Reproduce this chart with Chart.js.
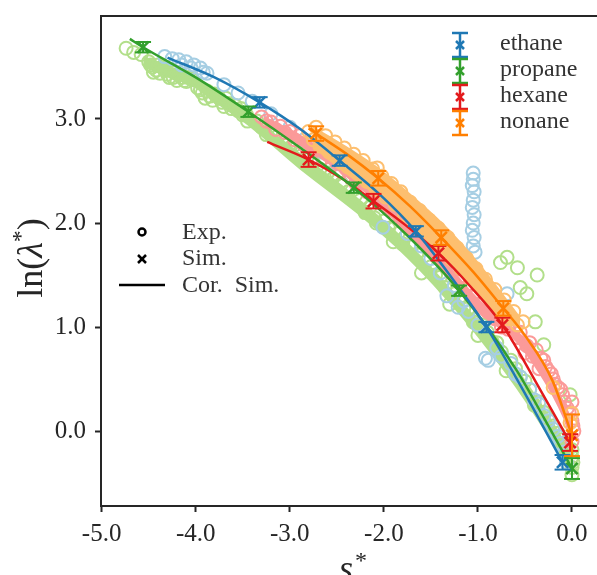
<!DOCTYPE html>
<html>
<head>
<meta charset="utf-8">
<script src="https://cdn.jsdelivr.net/npm/chart.js@4.4.0/dist/chart.umd.min.js"></script>
<style>
  body { margin: 0; background: #fff; }
  #wrap { width: 597px; height: 575px; }
</style>
</head>
<body>
<div id="wrap"><canvas id="chart" width="597" height="575"></canvas></div>
<script>
// series + colours
const seriesNames = ["ethane", "propane", "hexane", "nonane"];
const darkColors = ["#1f78b4", "#33a02c", "#e31a1c", "#ff7f00"];
const lightColors = ["#a6cee3", "#b2df8a", "#fb9a99", "#fdbf6f"];

const xTicks = [-5, -4, -3, -2, -1, 0];
const yTicks = [0, 1, 2, 3];

// experimental points [s*, ln(lambda*)]
const expEthane = [
  [-4.33, 3.60], [-4.25, 3.58], [-4.18, 3.57], [-4.10, 3.55], [-4.02, 3.52], [-3.95, 3.49],
  [-3.88, 3.44], [-4.15, 3.52], [-4.05, 3.49], [-3.92, 3.45], [-3.70, 3.33], [-3.55, 3.25],
  [-3.40, 3.17], [-3.20, 3.05], [-3.00, 2.92], [-2.85, 2.80], [-2.65, 2.68], [-2.50, 2.57],
  [-2.35, 2.45], [-2.20, 2.33], [-2.01, 1.96], [-1.75, 1.90], [-1.60, 1.78], [-1.50, 1.66],
  [-1.40, 1.52], [-1.33, 1.30], [-1.21, 1.19], [-1.10, 1.15], [-1.00, 1.02], [-0.92, 0.70],
  [-0.89, 0.68], [-0.80, 0.80], [-0.69, 1.32], [-0.65, 0.65], [-0.55, 0.52], [-0.45, 0.40],
  [-0.35, 0.26], [-0.25, 0.10], [-0.15, -0.05], [-0.08, -0.20], [-0.06, -0.30],
  [-0.75, 0.72], [-0.60, 0.55], [-0.40, 0.30], [-0.30, 0.15], [-0.20, 0.02], [-0.12, -0.12],
  [-1.25, 1.40], [-1.15, 1.25],
  [-1.05, 2.48], [-1.05, 2.42], [-1.06, 2.36], [-1.04, 2.30], [-1.05, 2.22], [-1.06, 2.15],
  [-1.04, 2.08], [-1.05, 2.00], [-1.06, 1.93], [-1.04, 1.86], [-1.05, 1.78], [-1.03, 1.72]
];
const expPropane = [
  [-4.74, 3.68], [-4.66, 3.64], [-4.58, 3.62], [-4.48, 3.52], [-4.42, 3.47], [-4.36, 3.50],
  [-4.30, 3.43], [-4.22, 3.45], [-4.15, 3.40], [-4.08, 3.40], [-4.45, 3.45], [-4.28, 3.40],
  [-4.12, 3.37], [-4.50, 3.55], [-4.46, 3.50], [-4.40, 3.52], [-4.38, 3.44], [-4.33, 3.47],
  [-4.26, 3.47], [-4.24, 3.40], [-4.18, 3.42], [-4.20, 3.37], [-4.10, 3.36], [-4.04, 3.38],
  [-3.95, 3.28], [-3.85, 3.22], [-3.75, 3.20], [-3.65, 3.15], [-3.55, 3.08], [-3.90, 3.20],
  [-3.70, 3.12], [-3.50, 3.04], [-3.98, 3.30], [-3.93, 3.25], [-3.88, 3.27], [-3.82, 3.18],
  [-3.80, 3.24], [-3.72, 3.16], [-3.68, 3.20], [-3.62, 3.10], [-3.58, 3.13], [-3.52, 3.10],
  [-3.46, 3.04], [-3.45, 2.98], [-3.35, 2.98], [-3.20, 2.88], [-3.05, 2.78], [-2.90, 2.68],
  [-2.75, 2.58], [-2.60, 2.48], [-2.45, 2.38], [-2.30, 2.27], [-2.15, 2.15], [-2.00, 2.02],
  [-1.85, 1.90], [-1.70, 1.78], [-1.55, 1.63], [-1.40, 1.48], [-1.25, 1.32], [-1.10, 1.18],
  [-0.95, 1.02], [-0.80, 0.85], [-0.65, 0.68], [-0.50, 0.48], [-0.35, 0.28], [-0.20, 0.05],
  [-0.08, -0.15], [0.00, -0.25], [0.00, -0.35], [0.00, -0.42], [0.01, -0.30],
  [-3.30, 2.92], [-3.25, 2.85], [-3.12, 2.84], [-3.00, 2.72], [-2.95, 2.75], [-2.82, 2.62],
  [-2.68, 2.52], [-2.55, 2.42], [-2.50, 2.47], [-2.38, 2.30], [-2.25, 2.22], [-2.08, 2.00],
  [-1.95, 1.95], [-1.80, 1.80], [-1.78, 1.86], [-1.65, 1.70], [-1.50, 1.58], [-1.45, 1.50],
  [-1.35, 1.38], [-1.20, 1.28], [-1.15, 1.18], [-1.05, 1.05], [-0.90, 0.95], [-0.85, 0.86],
  [-0.75, 0.76], [-0.60, 0.60], [-0.55, 0.52], [-0.45, 0.40], [-0.30, 0.18], [-0.25, 0.12],
  [-0.15, -0.02], [-0.10, -0.08], [-0.05, -0.20], [0.00, -0.18],
  [-2.20, 2.10], [-1.90, 1.82], [-1.60, 1.52], [-1.30, 1.22], [-1.00, 0.92], [-0.70, 0.58],
  [-0.40, 0.25], [-2.10, 2.05], [-0.76, 1.62], [-0.69, 1.67], [-0.58, 1.57], [-0.37, 1.50],
  [-0.55, 1.38], [-0.48, 1.32], [-0.39, 1.05], [-0.30, 0.83], [-0.02, 0.35]
];
const expHexane = [
  [-3.30, 3.02], [-3.20, 2.97], [-3.10, 2.93], [-3.00, 2.88], [-2.90, 2.84], [-2.80, 2.77],
  [-2.70, 2.72], [-2.60, 2.66], [-2.50, 2.58], [-2.40, 2.52], [-2.25, 2.40], [-2.10, 2.28],
  [-3.25, 2.98], [-3.15, 2.90], [-3.05, 2.87], [-2.95, 2.80], [-2.85, 2.75], [-2.75, 2.70],
  [-2.65, 2.62], [-2.55, 2.56], [-2.45, 2.50], [-2.35, 2.43], [-2.30, 2.38], [-2.18, 2.30],
  [-2.02, 2.20], [-1.88, 2.08], [-1.72, 1.95], [-1.58, 1.82], [-1.42, 1.68], [-1.28, 1.52],
  [-1.12, 1.38], [-0.98, 1.22], [-0.82, 1.08], [-0.68, 0.98],
  [-1.95, 2.15], [-1.80, 2.02], [-1.65, 1.88], [-1.50, 1.75], [-1.35, 1.60], [-1.20, 1.45],
  [-1.05, 1.30], [-0.90, 1.15], [-0.75, 1.00], [-0.62, 0.98], [-0.55, 0.95], [-0.45, 0.85],
  [-0.38, 0.78], [-0.30, 0.68], [-0.25, 0.58], [-0.20, 0.50], [-0.15, 0.42], [-0.10, 0.35],
  [-0.05, 0.22], [0.00, 0.10], [0.02, 0.00], [0.00, -0.10], [-0.50, 0.75], [-0.35, 0.60],
  [-0.58, 0.90], [-0.48, 0.82], [-0.42, 0.72], [-0.33, 0.70], [-0.28, 0.62], [-0.22, 0.55],
  [-0.18, 0.45], [-0.12, 0.40], [-0.08, 0.28], [-0.03, 0.18], [0.01, 0.05], [0.00, 0.28]
];
const expNonane = [
  [-2.80, 2.88], [-2.75, 2.80], [-2.72, 2.92], [-2.68, 2.74], [-2.62, 2.84], [-2.58, 2.68],
  [-2.52, 2.78], [-2.48, 2.62], [-2.42, 2.72], [-2.38, 2.54], [-2.32, 2.66], [-2.28, 2.48],
  [-2.22, 2.60], [-2.18, 2.40], [-2.12, 2.52], [-2.08, 2.32], [-2.02, 2.45], [-1.98, 2.25],
  [-1.92, 2.38], [-1.88, 2.18], [-1.82, 2.30], [-1.78, 2.08], [-1.72, 2.20], [-1.68, 2.00],
  [-1.62, 2.12], [-1.58, 1.92], [-1.52, 2.03], [-1.48, 1.82], [-1.42, 1.95], [-1.38, 1.74],
  [-1.32, 1.86], [-1.28, 1.65], [-1.22, 1.76], [-1.18, 1.56], [-1.12, 1.66], [-1.08, 1.47],
  [-1.02, 1.56], [-0.98, 1.38], [-0.92, 1.46], [-0.88, 1.28], [-0.82, 1.36], [-0.78, 1.18],
  [-0.72, 1.26], [-0.68, 1.08], [-0.62, 1.15], [-0.58, 1.02], [-0.52, 1.05], [-2.45, 2.58],
  [-2.05, 2.36], [-1.65, 2.06], [-1.25, 1.70], [-0.85, 1.32], [-2.07, 2.53], [-1.53, 2.03],
  [-0.20, 0.42], [0.00, 0.17], [-0.02, 0.08]
];

// where the experimental rings overlap into a solid cloud: s*, upper and lower edge
const propaneCloudS = [-4.55, -4.30, -4.05, -3.80, -3.45, -2.90, -2.30, -1.75, -1.20, -0.60, -0.25, 0.00];
const propaneCloudHi = [3.60, 3.52, 3.42, 3.28, 3.06, 2.68, 2.26, 1.82, 1.28, 0.62, 0.16, -0.22];
const propaneCloudLo = [3.50, 3.40, 3.32, 3.16, 2.94, 2.52, 2.10, 1.66, 1.12, 0.42, -0.06, -0.42];
const hexaneCloudS = [-3.28, -2.85, -2.40, -2.00, -1.50, -1.00, -0.60, -0.40, -0.20, 0.00];
const hexaneCloudHi = [3.03, 2.83, 2.54, 2.24, 1.80, 1.28, 0.98, 0.80, 0.50, 0.12];
const hexaneCloudLo = [2.95, 2.72, 2.44, 2.12, 1.66, 1.14, 0.86, 0.62, 0.32, -0.06];
const nonaneCloudS = [-2.75, -2.40, -2.05, -1.70, -1.35, -1.00, -0.75, -0.55];
const nonaneCloudHi = [2.93, 2.74, 2.53, 2.27, 1.98, 1.63, 1.34, 1.10];
const nonaneCloudLo = [2.72, 2.47, 2.24, 1.96, 1.66, 1.32, 1.07, 0.98];

// simulation points with error bars
const ethaneSimS = [-3.32, -2.47, -1.66, -0.91, -0.10];
const ethaneSimL = [3.16, 2.60, 1.92, 1.00, -0.30];
const ethaneSimErr = [0.05, 0.05, 0.05, 0.05, 0.07];
const propaneSimS = [-4.56, -3.44, -2.32, -1.20, 0.00];
const propaneSimL = [3.69, 3.07, 2.34, 1.35, -0.36];
const propaneSimErr = [0.05, 0.05, 0.05, 0.05, 0.10];
const hexaneSimS = [-2.80, -2.11, -1.42, -0.74, -0.02];
const hexaneSimL = [2.61, 2.21, 1.71, 1.02, -0.11];
const hexaneSimErr = [0.07, 0.07, 0.07, 0.07, 0.08];
const nonaneSimS = [-2.72, -2.06, -1.39, -0.73, 0.00];
const nonaneSimL = [2.86, 2.43, 1.86, 1.18, -0.04];
const nonaneSimErr = [0.07, 0.07, 0.07, 0.07, 0.20];

// correlation curves
const ethaneCorS = [-4.30, -3.80, -3.32, -2.90, -2.47, -2.05, -1.66, -1.30, -0.91, -0.48, -0.10];
const ethaneCorL = [3.59, 3.40, 3.16, 2.91, 2.60, 2.28, 1.92, 1.50, 1.00, 0.33, -0.30];
const propaneCorS = [-4.70, -4.56, -4.00, -3.44, -2.90, -2.32, -1.75, -1.20, -0.60, -0.30, 0.00];
const propaneCorL = [3.77, 3.69, 3.40, 3.07, 2.73, 2.34, 1.88, 1.35, 0.60, 0.13, -0.36];
const hexaneCorS = [-3.24, -2.80, -2.45, -2.11, -1.77, -1.42, -1.08, -0.74, -0.37, -0.02];
const hexaneCorL = [2.78, 2.61, 2.43, 2.21, 1.98, 1.71, 1.39, 1.02, 0.45, -0.11];
const nonaneCorS = [-2.80, -2.72, -2.39, -2.06, -1.72, -1.39, -1.05, -0.73, -0.50, -0.21, 0.00];
const nonaneCorL = [2.91, 2.86, 2.66, 2.43, 2.16, 1.86, 1.53, 1.18, 0.92, 0.49, -0.04];

const expSets = [expEthane, expPropane, expHexane, expNonane];
const cloudSets = [
  null,
  { s: propaneCloudS, hi: propaneCloudHi, lo: propaneCloudLo },
  { s: hexaneCloudS, hi: hexaneCloudHi, lo: hexaneCloudLo },
  { s: nonaneCloudS, hi: nonaneCloudHi, lo: nonaneCloudLo }
];
const simSets = [
  { s: ethaneSimS, l: ethaneSimL, err: ethaneSimErr },
  { s: propaneSimS, l: propaneSimL, err: propaneSimErr },
  { s: hexaneSimS, l: hexaneSimL, err: hexaneSimErr },
  { s: nonaneSimS, l: nonaneSimL, err: nonaneSimErr }
];
const corSets = [
  { s: ethaneCorS, l: ethaneCorL },
  { s: propaneCorS, l: propaneCorL },
  { s: hexaneCorS, l: hexaneCorL },
  { s: nonaneCorS, l: nonaneCorL }
];

const serif = "'Liberation Serif', 'DejaVu Serif', serif";
const ink = "#262626";
Chart.defaults.font.family = serif;
Chart.defaults.color = ink;

const toXY = (xs, ys) => xs.map((v, j) => ({ x: v, y: ys[j] }));

const datasets = [];
// sim markers on top
simSets.forEach((d, i) => {
  datasets.push({
    label: seriesNames[i] + " sim",
    data: toXY(d.s, d.l),
    pointStyle: "crossRot",
    pointRadius: 8,
    borderWidth: 2.5,
    borderColor: darkColors[i],
    showLine: false,
    order: 1
  });
});
// correlation lines
corSets.forEach((d, i) => {
  datasets.push({
    label: seriesNames[i] + " cor",
    type: "line",
    data: toXY(d.s, d.l),
    borderColor: darkColors[i],
    borderWidth: 2.5,
    pointRadius: 0,
    fill: false,
    cubicInterpolationMode: "monotone",
    order: 2
  });
});
// experimental rings and clouds; layering back to front: propane, ethane, hexane, nonane
const ringOrder = [8, 9, 6, 4];
const cloudOrder = [0, 10, 7, 5];
expSets.forEach((d, i) => {
  datasets.push({
    label: seriesNames[i] + " exp",
    data: d.map(p => ({ x: p[0], y: p[1] })),
    pointStyle: "circle",
    pointRadius: 6.5,
    borderWidth: 2,
    borderColor: lightColors[i],
    backgroundColor: "rgba(0,0,0,0)",
    showLine: false,
    order: ringOrder[i]
  });
});
cloudSets.forEach((c, i) => {
  if (!c) return;
  datasets.push({
    label: seriesNames[i] + " cloud hi",
    type: "line",
    data: toXY(c.s, c.hi),
    borderColor: "rgba(0,0,0,0)",
    backgroundColor: lightColors[i],
    pointRadius: 0,
    cubicInterpolationMode: "monotone",
    fill: "+1",
    order: cloudOrder[i]
  });
  datasets.push({
    label: seriesNames[i] + " cloud lo",
    type: "line",
    data: toXY(c.s, c.lo),
    borderColor: "rgba(0,0,0,0)",
    pointRadius: 0,
    cubicInterpolationMode: "monotone",
    fill: false,
    order: cloudOrder[i]
  });
});

function seg(ctx, x1, y1, x2, y2) {
  ctx.beginPath();
  ctx.moveTo(x1, y1);
  ctx.lineTo(x2, y2);
  ctx.stroke();
}

// error bars for the sim points
const errorBars = {
  id: "errorBars",
  afterDatasetsDraw(chart) {
    const { ctx, scales: { x, y } } = chart;
    ctx.save();
    ctx.lineWidth = 2;
    simSets.forEach((d, i) => {
      ctx.strokeStyle = darkColors[i];
      d.s.forEach((sv, j) => {
        const px = x.getPixelForValue(sv);
        const top = y.getPixelForValue(d.l[j] + d.err[j]);
        const bot = y.getPixelForValue(d.l[j] - d.err[j]);
        seg(ctx, px, top, px, bot);
        seg(ctx, px - 8, top, px + 8, top);
        seg(ctx, px - 8, bot, px + 8, bot);
      });
    });
    ctx.restore();
  }
};

// frame top, legends, axis titles
const decorations = {
  id: "decorations",
  afterDraw(chart) {
    const { ctx, chartArea: a } = chart;
    ctx.save();
    ctx.strokeStyle = ink;
    ctx.lineWidth = 2;
    seg(ctx, a.left - 1, a.top, a.right, a.top);

    // series legend
    ctx.font = "24px " + serif;
    ctx.textBaseline = "middle";
    ctx.textAlign = "left";
    const rows = [45, 71, 97, 123];
    seriesNames.forEach((name, i) => {
      const cx = 460, cy = rows[i];
      ctx.strokeStyle = darkColors[i];
      ctx.lineWidth = 2.5;
      seg(ctx, cx, cy - 12, cx, cy + 12);
      seg(ctx, cx - 8, cy - 12, cx + 8, cy - 12);
      seg(ctx, cx - 8, cy + 12, cx + 8, cy + 12);
      seg(ctx, cx - 4, cy - 4, cx + 4, cy + 4);
      seg(ctx, cx - 4, cy + 4, cx + 4, cy - 4);
      ctx.fillStyle = "#333";
      ctx.fillText(name, 500, cy - 1);
    });

    // marker legend
    ctx.strokeStyle = "#000";
    ctx.lineWidth = 2.5;
    ctx.beginPath();
    ctx.arc(142, 232, 3.5, 0, Math.PI * 2);
    ctx.stroke();
    seg(ctx, 138, 255, 146, 263);
    seg(ctx, 138, 263, 146, 255);
    seg(ctx, 119, 285, 165, 285);
    ctx.fillStyle = "#333";
    ctx.fillText("Exp.", 182, 233);
    ctx.fillText("Sim.", 182, 259);
    ctx.fillText("Cor.  Sim.", 182, 286);

    // y title ln(λ*)
    ctx.save();
    ctx.translate(42, 258);
    ctx.rotate(-Math.PI / 2);
    ctx.textBaseline = "alphabetic";
    ctx.fillStyle = ink;
    const big = "36px " + serif, ital = "italic 36px " + serif, sup = "24px " + serif;
    const parts = [["ln(", big, 0], ["λ", ital, 0], ["*", sup, -14], [")", big, 0]];
    let w = 0;
    parts.forEach(p => { ctx.font = p[1]; w += ctx.measureText(p[0]).width; });
    let xx = -w / 2;
    parts.forEach(p => {
      ctx.font = p[1];
      ctx.fillText(p[0], xx, p[2]);
      xx += ctx.measureText(p[0]).width;
    });
    ctx.restore();

    // x title s*
    ctx.textBaseline = "alphabetic";
    ctx.fillStyle = ink;
    ctx.font = "italic 36px " + serif;
    ctx.fillText("s", 339, 580);
    ctx.font = "24px " + serif;
    ctx.fillText("*", 355, 568);
    ctx.restore();
  }
};

new Chart(document.getElementById("chart"), {
  type: "scatter",
  data: { datasets },
  options: {
    responsive: false,
    animation: false,
    devicePixelRatio: 1,
    layout: { autoPadding: false, padding: { top: 16, left: 0, right: 0, bottom: 0 } },
    plugins: { legend: { display: false }, tooltip: { enabled: false } },
    scales: {
      x: {
        type: "linear",
        min: -5.007,
        max: 0.266,
        afterFit: s => { s.height = 69; s.paddingLeft = 0; s.paddingRight = 0; },
        afterBuildTicks: s => { s.ticks = xTicks.map(v => ({ value: v })); },
        border: { display: true, color: ink, width: 2 },
        grid: { drawOnChartArea: false, drawTicks: true, tickLength: 6, tickColor: ink, tickWidth: 2 },
        ticks: { font: { size: 25 }, color: ink, padding: 7, maxRotation: 0, callback: v => v.toFixed(1) }
      },
      y: {
        type: "linear",
        min: -0.72,
        max: 3.99,
        afterFit: s => { s.width = 101; s.paddingTop = 0; s.paddingBottom = 0; },
        afterBuildTicks: s => { s.ticks = yTicks.map(v => ({ value: v })); },
        border: { display: true, color: ink, width: 2 },
        grid: { drawOnChartArea: false, drawTicks: true, tickLength: 6, tickColor: ink, tickWidth: 2 },
        ticks: { font: { size: 25 }, color: ink, padding: 9, callback: v => v.toFixed(1) }
      }
    }
  },
  plugins: [errorBars, decorations]
});
</script>
</body>
</html>
